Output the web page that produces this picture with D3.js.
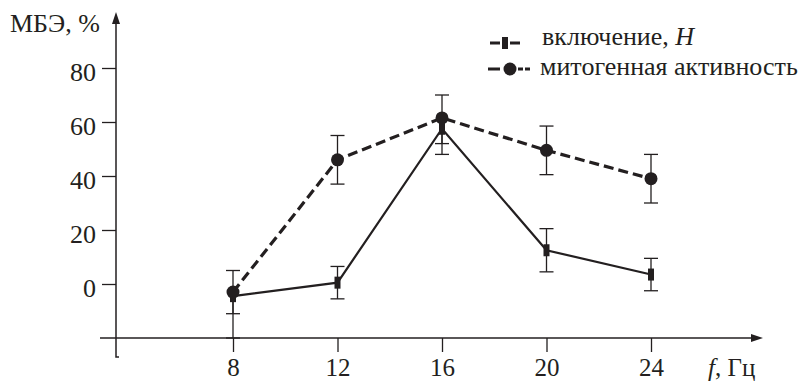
<!DOCTYPE html>
<html>
<head>
<meta charset="utf-8">
<script src="https://cdn.jsdelivr.net/npm/d3@7"></script>
<style>
  body { margin: 0; background: #fff; }
  svg text { font-family: "Liberation Serif", "Times New Roman", "DejaVu Serif", "Noto Serif", serif; fill: #231f20; }
</style>
</head>
<body>
<div id="chart"></div>
<script>
// frequencies, Hz
var freqs = [8, 12, 16, 20, 24];
var yTicks = [0, 20, 40, 60, 80];

// митогенная активность (dashed, circles)
var mitotic = [-3, 46, 61.5, 49.5, 39];
var mitoticErrUp = [8, 9, 8.5, 9, 9];
var mitoticErrDown = [8, 9, 9.5, 9, 9];

// включение, H (solid, squares)
var inclusion = [-4.5, 0.5, 57.5, 12.5, 3.5];
var inclusionErrUp = [0, 6, 0, 8, 6];
var inclusionErrDown = [15.5, 6, 9.5, 8, 6];

var ink = "#231f20";
var serif = '"Liberation Serif", "Times New Roman", "DejaVu Serif", serif';
var width = 810, height = 382;

var svg = d3.select("#chart").append("svg")
    .attr("width", width)
    .attr("height", height);

var x = d3.scaleLinear().domain([8, 24]).range([233, 651]);
var y = d3.scaleLinear().domain([-20, 80]).range([338, 68]);

var axisX = 116;

// y axis line with arrow
svg.append("path")
    .attr("d", "M" + axisX + ",22 V357 H119")
    .attr("fill", "none").attr("stroke", ink).attr("stroke-width", 1.5);
svg.append("path")
    .attr("d", "M" + axisX + ",12 L" + (axisX - 4) + ",24 L" + (axisX + 4) + ",24 Z")
    .attr("fill", ink);

// x axis line with arrow
svg.append("path")
    .attr("d", "M100," + y(-20) + " H754")
    .attr("stroke", ink).attr("stroke-width", 1.5);
svg.append("path")
    .attr("d", "M763," + y(-20) + " L751," + (y(-20) - 4) + " L751," + (y(-20) + 4) + " Z")
    .attr("fill", ink);

// y ticks
var gy = svg.append("g")
    .attr("transform", "translate(" + axisX + ",0)")
    .call(d3.axisLeft(y).tickValues(yTicks).tickSize(14).tickPadding(6));
gy.attr("font-family", null).attr("font-size", null);
gy.select(".domain").remove();
gy.selectAll("line").attr("stroke", ink).attr("stroke-width", 1.3);
gy.selectAll("text")
    .attr("dy", "0.48em")
    .attr("fill", ink)
    .style("font-size", "26px")
    .style("font-family", serif);

// x ticks
var gx = svg.append("g")
    .attr("transform", "translate(0," + y(-20) + ")")
    .call(d3.axisBottom(x).tickValues(freqs).tickSize(14).tickFormat(d3.format("d")));
gx.attr("font-family", null).attr("font-size", null);
gx.select(".domain").remove();
gx.selectAll("line").attr("stroke", ink).attr("stroke-width", 1.3);
gx.selectAll("text")
    .attr("y", 38).attr("dy", 0)
    .attr("fill", ink)
    .style("font-size", "25px")
    .style("font-family", serif);

// axis titles
svg.append("text").attr("x", 10).attr("y", 32)
    .style("font-size", "26px").text("МБЭ, %");
var fl = svg.append("text").attr("x", 708).attr("y", 376).style("font-size", "25px");
fl.append("tspan").style("font-style", "italic").text("f");
fl.append("tspan").text(", Гц");

// error bars
function errorBars(vals, up, down) {
    var g = svg.append("g").attr("stroke", ink).attr("stroke-width", 1.3);
    vals.forEach(function (v, i) {
        var cx = x(freqs[i]);
        var top = y(v + up[i]), bot = y(v - down[i]);
        g.append("line").attr("x1", cx).attr("x2", cx).attr("y1", top).attr("y2", bot);
        if (up[i] > 0) g.append("line").attr("x1", cx - 7).attr("x2", cx + 7).attr("y1", top).attr("y2", top);
        if (down[i] > 0) g.append("line").attr("x1", cx - 7).attr("x2", cx + 7).attr("y1", bot).attr("y2", bot);
    });
}
errorBars(mitotic, mitoticErrUp, mitoticErrDown);
errorBars(inclusion, inclusionErrUp, inclusionErrDown);

var line = d3.line()
    .x(function (d, i) { return x(freqs[i]); })
    .y(function (d) { return y(d); });

svg.append("path").datum(inclusion)
    .attr("d", line).attr("fill", "none")
    .attr("stroke", ink).attr("stroke-width", 2.2);

svg.append("path").datum(mitotic)
    .attr("d", line).attr("fill", "none")
    .attr("stroke", ink).attr("stroke-width", 3.2)
    .attr("stroke-dasharray", "10,5");

// markers
svg.selectAll("rect.sq").data(inclusion).enter().append("rect")
    .attr("class", "sq")
    .attr("x", function (d, i) { return x(freqs[i]) - 3; })
    .attr("y", function (d) { return y(d) - 6; })
    .attr("width", 6).attr("height", 12)
    .attr("fill", ink);

svg.selectAll("circle.ci").data(mitotic).enter().append("circle")
    .attr("class", "ci")
    .attr("cx", function (d, i) { return x(freqs[i]); })
    .attr("cy", function (d) { return y(d); })
    .attr("r", 6.5)
    .attr("fill", ink);

// legend
var lg = svg.append("g");
lg.append("line").attr("x1", 490).attr("x2", 520).attr("y1", 43).attr("y2", 43)
    .attr("stroke", ink).attr("stroke-width", 3).attr("stroke-dasharray", "10,10");
lg.append("rect").attr("x", 502).attr("y", 37).attr("width", 6).attr("height", 12).attr("fill", ink);
var t1 = lg.append("text").attr("x", 542).attr("y", 45).style("font-size", "26px");
t1.append("tspan").text("включение, ");
t1.append("tspan").style("font-style", "italic").text("H");

lg.append("line").attr("x1", 488).attr("x2", 530).attr("y1", 69).attr("y2", 69)
    .attr("stroke", ink).attr("stroke-width", 3).attr("stroke-dasharray", "12,18,5,2,5,40");
lg.append("circle").attr("cx", 510).attr("cy", 69).attr("r", 6.5).attr("fill", ink);
lg.append("text").attr("x", 540).attr("y", 75).style("font-size", "26px")
    .text("митогенная активность");
</script>
</body>
</html>
